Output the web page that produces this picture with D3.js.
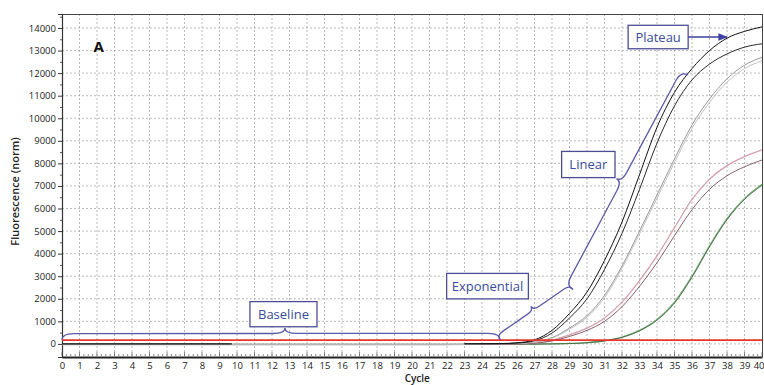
<!DOCTYPE html>
<html>
<head>
<meta charset="utf-8">
<script src="https://cdn.jsdelivr.net/npm/d3@7"></script>
<style>
  html, body { margin: 0; padding: 0; background: #fff; }
  svg { display: block; font-family: "Open Sans", "DejaVu Sans", sans-serif; }
</style>
</head>
<body>
<svg id="chart" width="764" height="385"></svg>
<script>
// ---------------- DATA ----------------
const cycles = [0,1,2,3,4,5,6,7,8,9,10,11,12,13,14,15,16,17,18,19,20,21,22,23,24,25,26,27,28,29,30,31,32,33,34,35,36,37,38,39,40];
const yTicks = [0,1000,2000,3000,4000,5000,6000,7000,8000,9000,10000,11000,12000,13000,14000];

// black sample curves (visible from cycle 23)
const black1 = [null,null,null,null,null,null,null,null,null,null,null,null,null,null,null,null,null,null,null,null,null,null,null,
  5,8,15,50,180,600,1350,2300,3700,5400,7500,9600,11150,12200,13000,13550,13850,14050];
const black2 = [null,null,null,null,null,null,null,null,null,null,null,null,null,null,null,null,null,null,null,null,null,null,null,
  3,5,10,35,140,480,1150,2000,3300,4900,6850,8900,10550,11700,12400,12850,13150,13300];
// grey pair
const grey1 = [-30,-30,-30,-30,-30,-30,-30,-30,-30,-30,-30,-30,-30,-30,-30,-30,-30,-30,-30,-30,-30,-30,-30,-20,
  5,10,25,80,280,700,1250,2150,3450,5000,6600,8200,9700,10850,11750,12350,12700];
const grey2 = [-40,-40,-40,-40,-40,-40,-40,-40,-40,-40,-40,-40,-40,-40,-40,-40,-40,-40,-40,-40,-40,-40,-40,-30,
  0,8,20,70,250,650,1180,2050,3350,4880,6450,8050,9550,10700,11600,12200,12550];
// pink pair
const pink1 = [-20,-20,-20,-20,-20,-20,-20,-20,-20,-20,-20,-20,-20,-20,-20,-20,-20,-20,-20,-20,-20,-20,-20,-20,-15,-10,5,
  40,160,400,700,1150,1850,2800,3900,5150,6400,7300,7900,8300,8600];
const pink2 = [-25,-25,-25,-25,-25,-25,-25,-25,-25,-25,-25,-25,-25,-25,-25,-25,-25,-25,-25,-25,-25,-25,-25,-25,-20,-15,0,
  30,130,330,600,1000,1650,2550,3600,4800,5950,6850,7450,7850,8150];
// green pair
const green1 = [-20,-20,-20,-20,-20,-20,-20,-20,-20,-20,-20,-20,-20,-20,-20,-20,-20,-20,-20,-20,-20,-20,-20,-20,-20,-15,-10,-5,5,
  20,60,140,300,600,1080,1850,3000,4350,5550,6450,7080];
const green2 = [-25,-25,-25,-25,-25,-25,-25,-25,-25,-25,-25,-25,-25,-25,-25,-25,-25,-25,-25,-25,-25,-25,-25,-25,-25,-20,-15,-10,0,
  15,50,130,290,580,1050,1810,2950,4300,5500,6400,7030];
// short black baseline segment
const blackBaseCycles = [0, 9.7];
const blackBaseValues = [0, 0];
// threshold
const thresholdValue = 170;

// ---------------- LAYOUT ----------------
const mL = 62, mR = 762, mT = 14, mB = 357;
const svg = d3.select("#chart");
const x = d3.scaleLinear().domain([0, 40]).range([mL, mR]);
const y = d3.scaleLinear().domain([-580, 14620]).range([mB, mT]);

// grid
const grid = svg.append("g").attr("stroke", "#a8a8a8").attr("stroke-width", 0.8).attr("stroke-dasharray", "2,2");
grid.selectAll("line.v").data(cycles.filter(c => c > 0 && c < 40)).join("line").attr("class", "v")
  .attr("x1", d => x(d)).attr("x2", d => x(d)).attr("y1", mT).attr("y2", mB);
grid.selectAll("line.h").data(yTicks).join("line").attr("class", "h")
  .attr("x1", mL).attr("x2", mR).attr("y1", d => y(d)).attr("y2", d => y(d));

// frame top/right
svg.append("line").attr("x1", mL).attr("x2", mR).attr("y1", mT + 0.5).attr("y2", mT + 0.5).attr("stroke", "#444").attr("stroke-width", 1);
svg.append("line").attr("x1", mR + 0.5).attr("x2", mR + 0.5).attr("y1", mT).attr("y2", mB).attr("stroke", "#444").attr("stroke-width", 1);

// Y axis
const yAxis = d3.axisLeft(y).tickValues(yTicks).tickSize(4).tickPadding(2).tickFormat(d3.format("d"));
const gy = svg.append("g").attr("transform", `translate(${mL},0)`).call(yAxis);
gy.select(".domain").attr("stroke", "#333").attr("stroke-width", 1.2);
gy.selectAll(".tick line").attr("stroke", "#333");
gy.selectAll("text").attr("font-size", 9.5).attr("fill", "#222").attr("font-family", "Open Sans");
// minor y ticks
const yMinor = d3.axisLeft(y).tickValues(yTicks.map(v => v + 500).filter(v => v < 14600)).tickSize(2).tickFormat("");
const gym = svg.append("g").attr("transform", `translate(${mL},0)`).call(yMinor);
gym.select(".domain").remove();
gym.selectAll(".tick line").attr("stroke", "#555");

// X axis
const xAxis = d3.axisBottom(x).tickValues(cycles).tickSize(0).tickPadding(5).tickFormat(d3.format("d"));
const gx = svg.append("g").attr("transform", `translate(0,${mB})`).call(xAxis);
gx.select(".domain").attr("stroke", "#222").attr("stroke-width", 2);
gx.selectAll("text").attr("font-size", 9.5).attr("fill", "#222").attr("font-family", "Open Sans");
// last label sits against the right edge of the picture
gx.selectAll(".tick").filter(d => d === 40).select("text").attr("text-anchor", "end").attr("dx", "2");
// ruler-like minor ticks (inside)
const minorX = d3.range(0, 40.001, 0.25);
svg.append("g").attr("stroke", "#555").attr("stroke-width", 0.7)
  .selectAll("line").data(minorX).join("line")
  .attr("x1", d => x(d)).attr("x2", d => x(d))
  .attr("y1", mB - 1).attr("y2", d => Number.isInteger(d) ? mB - 5 : mB - 3);

// axis titles
svg.append("text").attr("transform", `translate(19,${(mT + mB) / 2 + 6}) rotate(-90)`)
  .attr("text-anchor", "middle").attr("font-size", 11).attr("font-weight", 600).attr("fill", "#222")
  .text("Fluorescence (norm)");
svg.append("text").attr("x", x(20.3)).attr("y", 382).attr("text-anchor", "middle")
  .attr("font-size", 10).attr("font-weight", 600).attr("fill", "#222").text("Cycle");

// panel letter
svg.append("text").attr("x", x(1.8)).attr("y", y(12950)).attr("font-size", 15).attr("font-weight", 700)
  .attr("fill", "#111").attr("font-family", "Open Sans").text("A");

// ---------------- CURVES ----------------
const line = d3.line().defined(d => d[1] !== null).x(d => x(d[0])).y(d => y(d[1])).curve(d3.curveMonotoneX);
const series = [
  { v: green1, c: "#72ad72", w: 1.3 },
  { v: green2, c: "#3d5e3d", w: 0.8 },
  { v: pink1, c: "#d6a0ae", w: 1.3 },
  { v: pink2, c: "#7a4f5a", w: 0.9 },
  { v: grey1, c: "#9a9a9a", w: 1.0 },
  { v: grey2, c: "#c2c2c2", w: 1.0 },
  { v: black2, c: "#2a2a2a", w: 1.0 },
  { v: black1, c: "#111111", w: 1.0 }
];
svg.append("g").attr("fill", "none").selectAll("path").data(series).join("path")
  .attr("d", s => line(cycles.map((c, i) => [c, s.v[i]])))
  .attr("stroke", d => d.c).attr("stroke-width", d => d.w);
svg.append("path").attr("fill", "none").attr("stroke", "#111").attr("stroke-width", 1.2)
  .attr("d", line(blackBaseCycles.map((c, i) => [c, blackBaseValues[i]])));

// threshold
svg.append("line").attr("x1", x(0)).attr("x2", x(40)).attr("y1", y(thresholdValue)).attr("y2", y(thresholdValue))
  .attr("stroke", "#e8352a").attr("stroke-width", 1.8);

// ---------------- ANNOTATIONS ----------------
const annColor = "#5a5aa6", textColor = "#3a4c9c";
function brace(p1, p2, a, h, r, f) {
  const dx = p2[0] - p1[0], dy = p2[1] - p1[1], L = Math.hypot(dx, dy);
  const t = [dx / L, dy / L], n = [t[1], -t[0]];
  const m = [p1[0] + dx * f, p1[1] + dy * f];
  const off = (p, k) => [p[0] + n[0] * k, p[1] + n[1] * k];
  const al = (p, k) => [p[0] + t[0] * k, p[1] + t[1] * k];
  const P = d3.path();
  const a1 = off(p1, a), am = off(m, a), a2 = off(p2, a), tip = off(m, a + h);
  const s1 = al(a1, r), e1 = al(am, -r), s2 = al(am, r), e2 = al(a2, -r);
  P.moveTo(...p1);
  P.quadraticCurveTo(...a1, ...s1);
  P.lineTo(...e1);
  P.quadraticCurveTo(...am, ...tip);
  P.quadraticCurveTo(...am, ...s2);
  P.lineTo(...e2);
  P.quadraticCurveTo(...a2, ...p2);
  return P.toString();
}
const ann = svg.append("g");
const braces = [
  { p1: [0, 170], p2: [25.03, 179], a: 6.5, h: 5.5, r: 12, f: 0.509 },
  { p1: [25.03, 179], p2: [29.2, 2411], a: 5.5, h: 4.5, r: 7, f: 0.5 },
  { p1: [29.2, 2411], p2: [35.77, 11920], a: 8, h: 6, r: 10, f: 0.486 }
];
braces.forEach(b => {
  ann.append("path").attr("fill", "none").attr("stroke", annColor).attr("stroke-width", 1.3)
    .attr("d", brace([x(b.p1[0]), y(b.p1[1])], [x(b.p2[0]), y(b.p2[1])], b.a, b.h, b.r, b.f));
});

const boxes = [
  { text: "Baseline", x0: 10.74, x1: 14.57, v0: 760, v1: 1875 },
  { text: "Exponential", x0: 21.98, x1: 26.65, v0: 1995, v1: 3125 },
  { text: "Linear", x0: 28.55, x1: 31.6, v0: 7370, v1: 8530 },
  { text: "Plateau", x0: 32.35, x1: 35.78, v0: 13080, v1: 14120 }
];
boxes.forEach(b => {
  ann.append("rect").attr("x", x(b.x0)).attr("y", y(b.v1)).attr("width", x(b.x1) - x(b.x0)).attr("height", y(b.v0) - y(b.v1))
    .attr("fill", "#fff").attr("stroke", "#4d4d96").attr("stroke-width", 1.3);
  ann.append("text").attr("x", (x(b.x0) + x(b.x1)) / 2).attr("y", (y(b.v0) + y(b.v1)) / 2 + 4.5)
    .attr("text-anchor", "middle").attr("font-size", 13).attr("fill", textColor).text(b.text);
});

// plateau arrow
svg.append("defs").append("marker").attr("id", "arr").attr("viewBox", "0 0 10 10").attr("refX", 9).attr("refY", 5)
  .attr("markerWidth", 6).attr("markerHeight", 6).attr("orient", "auto")
  .append("path").attr("d", "M0,1 L10,5 L0,9 Z").attr("fill", "#3f3fa0");
ann.append("line").attr("x1", x(35.78)).attr("x2", x(38.0)).attr("y1", y(13600)).attr("y2", y(13600))
  .attr("stroke", "#3f3fa0").attr("stroke-width", 1.6).attr("marker-end", "url(#arr)");
</script>
</body>
</html>
